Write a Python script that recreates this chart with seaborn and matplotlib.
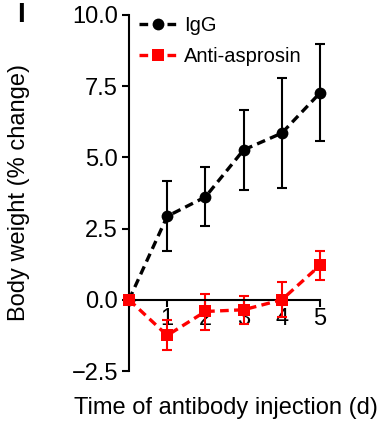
import numpy as np
import pandas as pd
import matplotlib
matplotlib.use("Agg")
import matplotlib.pyplot as plt
import seaborn as sns

# Values
days = [0, 1, 2, 3, 4, 5]
igg_mean = [0.0, 2.93, 3.61, 5.26, 5.85, 7.26]
igg_upper = [0.0, 4.18, 4.66, 6.67, 7.80, 8.98]
igg_lower = [0.0, 1.70, 2.60, 3.86, 3.91, 5.57]
anti_mean = [0.0, -1.25, -0.41, -0.35, 0.0, 1.21]
anti_upper = [0.0, -0.70, 0.20, 0.14, 0.62, 1.72]
anti_lower = [0.0, -1.76, -1.05, -0.85, -0.60, 0.70]
groups = ["IgG", "Anti-asprosin"]
colors = {"IgG": "black", "Anti-asprosin": "#ff0000"}

df = pd.DataFrame({
    "day": days * 2,
    "value": igg_mean + anti_mean,
    "group": [groups[0]] * len(days) + [groups[1]] * len(days),
})

sns.set_style("ticks")
plt.rcParams["font.family"] = ["Liberation Sans", "DejaVu Sans"]
plt.rcParams.update({"text.color": "black", "axes.labelcolor": "black",
                     "xtick.color": "black", "ytick.color": "black"})

fig = plt.figure(figsize=(3.89, 4.25), dpi=100)
ax = fig.add_axes([0.3316, 0.127, 0.491, 0.838])

sns.lineplot(data=df, x="day", y="value", hue="group", style="group",
             palette=colors, markers={"IgG": "o", "Anti-asprosin": "s"},
             dashes={"IgG": (2.6, 1.6), "Anti-asprosin": (2.6, 1.6)},
             linewidth=2.4, markersize=8.5, markeredgewidth=0,
             ax=ax, clip_on=False, zorder=3)

# error bars (skip day 0, no spread)
for name, m, lo, hi in [("IgG", igg_mean, igg_lower, igg_upper),
                        ("Anti-asprosin", anti_mean, anti_lower, anti_upper)]:
    m = np.array(m[1:])
    err = np.vstack([m - np.array(lo[1:]), np.array(hi[1:]) - m])
    ax.errorbar(days[1:], m, yerr=err, fmt="none", ecolor=colors[name],
                elinewidth=1.5, capsize=3.5, capthick=1.5, clip_on=False, zorder=2)

ax.set_xlim(0, 5)
ax.set_ylim(-2.5, 10)
ax.set_xticks([1, 2, 3, 4, 5])
ax.set_yticks([-2.5, 0, 2.5, 5, 7.5, 10])
ax.set_yticklabels(["\u22122.5", "0.0", "2.5", "5.0", "7.5", "10.0"])
ax.spines["right"].set_visible(False)
ax.spines["top"].set_visible(False)
ax.spines["bottom"].set_position(("data", 0))
for sp in ["left", "bottom"]:
    ax.spines[sp].set_linewidth(1.5)
    ax.spines[sp].set_color("black")
ax.tick_params(axis="both", labelsize=17, width=1.5, length=5, color="black",
               labelcolor="black", pad=3)
ax.tick_params(axis="x", pad=1)
ax.set_xlabel("Time of antibody injection (d)", fontsize=17, color="black")
ax.set_ylabel("Body weight (% change)", fontsize=17, color="black")
ax.xaxis.set_label_coords(0.505, -0.072)
ax.yaxis.set_label_coords(-0.52, 0.5)

leg = ax.legend(loc="upper left", frameon=False, fontsize=14.5, handlelength=1.9,
                handletextpad=0.35, borderaxespad=0.0, labelspacing=0.6,
                bbox_to_anchor=(0.01, 1.02))
for t in leg.get_texts():
    t.set_color("black")

fig.text(0.045, 0.995, "I", fontsize=20, fontweight="bold", va="top", color="black")

fig.savefig("out.png", dpi=100)
